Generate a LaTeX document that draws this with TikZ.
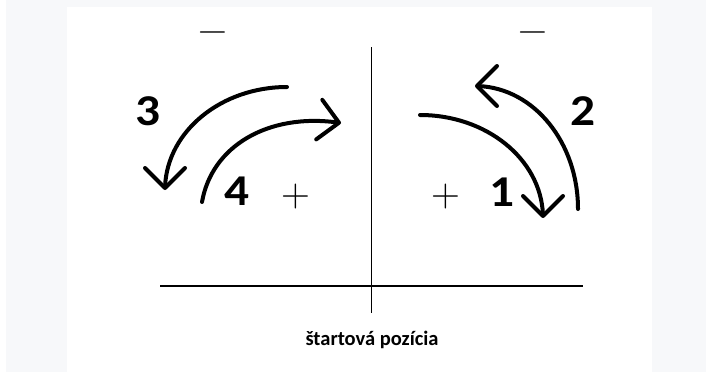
\documentclass[tikz,border=0pt]{standalone}
\usepackage{fontspec}
\setmainfont{Carlito}
\newfontfamily\lmsigns{Latin Modern Roman}
\usetikzlibrary{arrows.meta,bending}
\definecolor{bgframe}{HTML}{F7F8FA}
\begin{document}
\begin{tikzpicture}[x=1pt,y=-1pt,
  curvearrow/.style={line width=4pt, line cap=round, line join=round,
    -{Straight Barb[length=20pt,width=40pt,round]}},
  axisline/.style={line width=1.5pt},
  digit/.style={font=\bfseries\fontsize{44}{44}\selectfont, inner sep=0pt, xscale=1.12},
  sign/.style={font=\lmsigns\fontsize{40}{40}\selectfont, inner sep=0pt},
  caption/.style={font=\bfseries\fontsize{20.5}{24}\selectfont, inner sep=0pt}]
\useasboundingbox (0,0) rectangle (706,372);
\fill[bgframe] (6,0) rectangle (706,372);
\fill[white] (67,7) rectangle (652,372);

% axes
\coordinate (vtop) at (371.5,47);
\coordinate (vbot) at (371.5,313);
\coordinate (hleft) at (160,286);
\coordinate (hright) at (583,286);
\draw[axisline] (vtop) -- (vbot);
\draw[axisline] (hleft) -- (hright);

% signs
\node[sign] (minusL) at (213,37) {−};
\node[sign] (minusR) at (532.5,37) {−};
\node[sign] (plusL) at (296,197) {+};
\node[sign] (plusR) at (446,197) {+};

% numbers
\node[digit] (n3) at (147.5,111.5) {3};
\node[digit] (n2) at (582.5,111.5) {2};
\node[digit] (n4) at (236.5,191) {4};
\node[digit] (n1) at (502,192) {1};

% arrows
\coordinate (a3s) at (287,87);
\coordinate (a3e) at (165,190);
\draw[curvearrow] (a3s) .. controls (220,87) and (165,133) .. (a3e);

\coordinate (a4s) at (202,202);
\coordinate (a4e) at (341,123);
\draw[curvearrow] (a4s) .. controls (212,145) and (270,112) .. (a4e);

\coordinate (a1s) at (420,115);
\coordinate (a1e) at (543,218);
\draw[curvearrow] (a1s) .. controls (488,115) and (543,161) .. (a1e);

\coordinate (a2s) at (578,209);
\coordinate (a2e) at (475,86);
\draw[curvearrow] (a2s) .. controls (578,141) and (532,86) .. (a2e);

% caption
\node[caption] (cap) at (372,340) {štartová pozícia};
\end{tikzpicture}
\end{document}
